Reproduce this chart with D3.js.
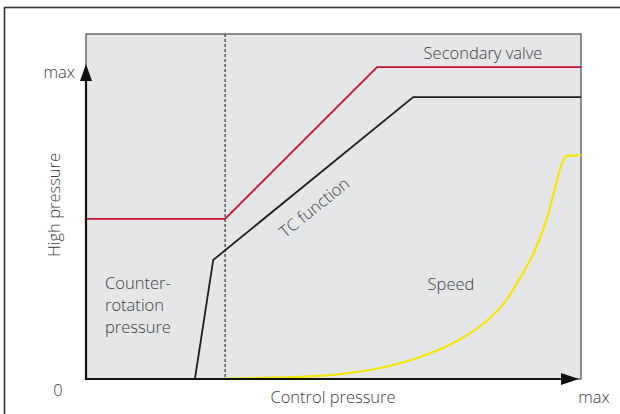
<!DOCTYPE html>
<html>
<head>
<meta charset="utf-8">
<script src="https://cdn.jsdelivr.net/npm/d3@7"></script>
<style>
  html, body { margin: 0; padding: 0; background: #fff; }
  svg { display: block; }
  text { font-family: "Open Sans", "Noto Sans", sans-serif; font-weight: 300; fill: #3c3c3c; font-size: 16.5px; }
</style>
</head>
<body>
<svg id="chart" width="620" height="414"></svg>
<script>
// Characteristic curves, control pressure (x) vs. high pressure (y), both in % of max.
const secondaryValveX = [0, 28.1, 58.8, 100];
const secondaryValveY = [46.4, 46.4, 90.4, 90.4];

const tcFunctionX = [22.0, 25.7, 66.1, 100];
const tcFunctionY = [0, 34.5, 81.7, 81.7];

const speedX = [26.1, 35.2, 43.2, 51.3, 59.4, 67.5, 73.5, 77.6, 81.6, 84.6, 87.7, 90.7, 93.3, 94.9, 96.0, 97.0, 100];
const speedY = [0, 0.3, 0.6, 1.4, 3.2, 6.4, 9.9, 13.3, 17.7, 22.3, 29.3, 37.4, 47.5, 56.2, 62.0, 64.6, 64.9];

const switchPointX = 28.1;

const xTickLabels = ["0", "max"];
const yTickLabels = ["max"];

const svg = d3.select("#chart");
const plot = { left: 86, top: 34, right: 581, bottom: 379 };

const x = d3.scaleLinear().domain([0, 100]).range([plot.left, plot.right]);
const y = d3.scaleLinear().domain([0, 100]).range([plot.bottom, plot.top]);

// outer frame
svg.append("rect")
  .attr("x", 4.5).attr("y", 7.5)
  .attr("width", 640).attr("height", 420)
  .attr("fill", "none").attr("stroke", "#333").attr("stroke-width", 1.6);

// plot background
svg.append("rect")
  .attr("x", plot.left).attr("y", plot.top)
  .attr("width", plot.right - plot.left).attr("height", plot.bottom - plot.top)
  .attr("fill", "#e5e6e8").attr("stroke", "#4a4a4a").attr("stroke-width", 1.2);

// dashed switch point
svg.append("line")
  .attr("x1", x(switchPointX)).attr("x2", x(switchPointX))
  .attr("y1", plot.top).attr("y2", plot.bottom)
  .attr("stroke", "#222").attr("stroke-width", 1.1)
  .attr("stroke-dasharray", "3,2");

const line = d3.line().x(d => x(d[0])).y(d => y(d[1]));

svg.append("path")
  .datum(d3.zip(secondaryValveX, secondaryValveY))
  .attr("d", line)
  .attr("fill", "none").attr("stroke", "#c8102e").attr("stroke-width", 1.8);

svg.append("path")
  .datum(d3.zip(tcFunctionX, tcFunctionY))
  .attr("d", line)
  .attr("fill", "none").attr("stroke", "#1e1e1e").attr("stroke-width", 1.8);

svg.append("path")
  .datum(d3.zip(speedX, speedY))
  .attr("d", line.curve(d3.curveMonotoneX))
  .attr("fill", "none").attr("stroke", "#f6e500").attr("stroke-width", 2.2);

// axes with arrowheads
svg.append("line")
  .attr("x1", plot.left).attr("x2", plot.left)
  .attr("y1", plot.bottom + 1).attr("y2", 78)
  .attr("stroke", "#111").attr("stroke-width", 2.2);
svg.append("path")
  .attr("d", `M${plot.left},64 L${plot.left - 6},81 L${plot.left + 6},81 Z`)
  .attr("fill", "#111");

svg.append("line")
  .attr("x1", plot.left - 1).attr("x2", 565)
  .attr("y1", plot.bottom).attr("y2", plot.bottom)
  .attr("stroke", "#111").attr("stroke-width", 2.2);
svg.append("path")
  .attr("d", `M579,${plot.bottom} L561,${plot.bottom - 6} L561,${plot.bottom + 6} Z`)
  .attr("fill", "#111");

// tick labels
svg.append("text").attr("x", 58).attr("y", 396).attr("text-anchor", "middle").text(xTickLabels[0]);
svg.append("text").attr("x", 594).attr("y", 403).attr("text-anchor", "middle").text(xTickLabels[1]);
svg.append("text").attr("x", 75).attr("y", 78).attr("text-anchor", "end").text(yTickLabels[0]);

// axis titles
svg.append("text").attr("x", 333).attr("y", 403).attr("text-anchor", "middle").text("Control pressure");
svg.append("text")
  .attr("transform", "translate(60,205) rotate(-90)")
  .attr("text-anchor", "middle").text("High pressure");

// curve labels
svg.append("text").attr("x", 483).attr("y", 59).attr("text-anchor", "middle").text("Secondary valve");
svg.append("text").attr("x", 451).attr("y", 290).attr("text-anchor", "middle").text("Speed");
svg.append("text")
  .attr("transform", "translate(318,212) rotate(-39)")
  .attr("text-anchor", "middle").text("TC function");

const counter = svg.append("text").attr("x", 105).attr("y", 289);
["Counter-", "rotation", "pressure"].forEach((t, i) => {
  counter.append("tspan").attr("x", 105).attr("dy", i === 0 ? 0 : 22).text(t);
});
</script>
</body>
</html>
